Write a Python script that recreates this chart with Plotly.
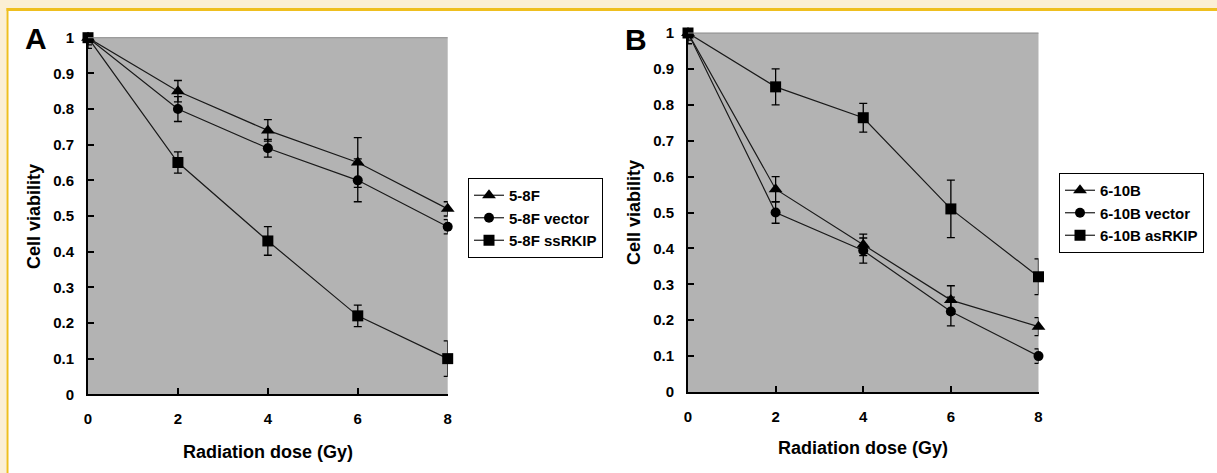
import plotly.graph_objects as go

W, H = 1217, 473

dose = [0, 2, 4, 6, 8]

# Panel A
a_names = ["5-8F", "5-8F vector", "5-8F ssRKIP"]
a_vals = [
    [1.0, 0.85, 0.74, 0.65, 0.52],
    [1.0, 0.80, 0.69, 0.60, 0.47],
    [1.0, 0.65, 0.43, 0.22, 0.10],
]
a_err = [
    [0.02, 0.03, 0.03, 0.07, 0.02],
    [0.03, 0.035, 0.025, 0.06, 0.02],
    [0.01, 0.03, 0.04, 0.03, 0.05],
]

# Panel B
b_names = ["6-10B", "6-10B vector", "6-10B asRKIP"]
b_vals = [
    [1.0, 0.565, 0.41, 0.256, 0.182],
    [1.0, 0.50, 0.394, 0.224, 0.10],
    [1.0, 0.85, 0.764, 0.51, 0.321],
]
b_err = [
    [0.03, 0.035, 0.03, 0.04, 0.025],
    [0.02, 0.03, 0.035, 0.04, 0.02],
    [0.01, 0.05, 0.04, 0.08, 0.05],
]

symbols = ["triangle-up", "circle", "square"]
msizes = [12, 10, 11]

y_tickvals = [0, 0.1, 0.2, 0.3, 0.4, 0.5, 0.6, 0.7, 0.8, 0.9, 1.0]
y_ticktext = ["0", "0.1", "0.2", "0.3", "0.4", "0.5", "0.6", "0.7", "0.8", "0.9", "1"]
x_tickvals = [0, 2, 4, 6, 8]

FONT = "Arial, Liberation Sans, sans-serif"

fig = go.Figure()

def add_panel(names, vals, errs, xa, ya, legend):
    for i, name in enumerate(names):
        fig.add_trace(go.Scatter(
            x=dose, y=vals[i], name=name, mode="lines+markers",
            xaxis=xa, yaxis=ya, legend=legend, legendgroup=f"{legend}{i}",
            line=dict(color="#1a1a1a", width=1.2),
            marker=dict(symbol=symbols[i], size=msizes[i], color="black"),
            error_y=dict(type="data", array=errs[i], visible=True,
                         color="black", thickness=1.3, width=4),
            cliponaxis=False,
        ))

add_panel(a_names, a_vals, a_err, "x", "y", "legend")
add_panel(b_names, b_vals, b_err, "x2", "y2", "legend2")

def px_x(p):
    return p / W

def px_y(p):
    return 1 - p / H

axA_x = [px_x(88), px_x(447.7)]
axA_y = [px_y(394.3), px_y(37.7)]
axB_x = [px_x(688), px_x(1038.5)]
axB_y = [px_y(392), px_y(33)]

xaxis_common = dict(
    range=[0, 8], tickvals=x_tickvals, showgrid=False, zeroline=False,
    showline=True, linecolor="black", linewidth=2, ticks="inside",
    ticklen=6, tickwidth=2, tickcolor="black",
    tickfont=dict(family=FONT, size=15, color="black", weight="bold"),
    ticklabelstandoff=10, automargin=False, fixedrange=True,
)
yaxis_common = dict(
    range=[0, 1], tickvals=y_tickvals, ticktext=y_ticktext, showgrid=False,
    zeroline=False, showline=True, linecolor="black", linewidth=2,
    ticks="inside", ticklen=6, tickwidth=2, tickcolor="black",
    tickfont=dict(family=FONT, size=15, color="black", weight="bold"),
    ticklabelstandoff=9, automargin=False, fixedrange=True,
)

legend_common = dict(
    bgcolor="white", bordercolor="black", borderwidth=1,
    font=dict(family=FONT, size=15, color="black", weight="bold"),
    xanchor="left", yanchor="top", traceorder="grouped", tracegroupgap=0,
    itemwidth=30,
)

fig.update_layout(
    width=W, height=H,
    margin=dict(l=0, r=0, t=0, b=0, pad=0),
    paper_bgcolor="white",
    plot_bgcolor="#b3b3b3",
    showlegend=True,
    xaxis=dict(domain=axA_x, anchor="y", **xaxis_common),
    yaxis=dict(domain=axA_y, anchor="x", **yaxis_common),
    xaxis2=dict(domain=axB_x, anchor="y2", **xaxis_common),
    yaxis2=dict(domain=axB_y, anchor="x2", **yaxis_common),
    legend=dict(x=px_x(468), y=px_y(178), **legend_common),
    legend2=dict(x=px_x(1059), y=px_y(173), **legend_common),
)

shapes = [
    # cream top strip and left strip
    dict(type="rect", xref="paper", yref="paper", x0=0, x1=1, y0=px_y(8), y1=1,
         fillcolor="#fbefd5", line=dict(width=0), layer="above"),
    dict(type="rect", xref="paper", yref="paper", x0=0, x1=px_x(6.5), y0=0, y1=px_y(8),
         fillcolor="#fbefd5", line=dict(width=0), layer="above"),
    # gold frame lines
    dict(type="rect", xref="paper", yref="paper", x0=px_x(6.5), x1=1, y0=px_y(11), y1=px_y(8),
         fillcolor="#efbf1f", line=dict(width=0), layer="above"),
    dict(type="rect", xref="paper", yref="paper", x0=px_x(6.5), x1=px_x(8.5), y0=0, y1=px_y(8),
         fillcolor="#efbf1f", line=dict(width=0), layer="above"),
    # thin gray top borders of plot areas
    dict(type="line", xref="x domain", yref="y domain", x0=0, x1=1, y0=1, y1=1,
         line=dict(color="#8a8a8a", width=1)),
    dict(type="line", xref="x2 domain", yref="y2 domain", x0=0, x1=1, y0=1, y1=1,
         line=dict(color="#8a8a8a", width=1)),
]
fig.update_layout(shapes=shapes)

def ann(text, x, y, size, bold=True, angle=0):
    font = dict(family=FONT, size=size, color="black")
    if bold:
        font["weight"] = "bold"
    return dict(text=text, x=px_x(x), y=px_y(y), xref="paper", yref="paper",
                xanchor="center", yanchor="middle", textangle=angle,
                showarrow=False, font=font)

annotations = [
    ann("A", 36, 38, 30),
    ann("B", 636, 39, 30),
    ann("Cell viability", 34, 217, 18, angle=-90),
    ann("Cell viability", 634, 213, 18, angle=-90),
    ann("Radiation dose (Gy)", 268, 452, 18),
    ann("Radiation dose (Gy)", 863, 448, 18),
]
fig.update_layout(annotations=annotations)

fig.write_html("out.html", post_script="document.body.style.margin='0';",
               config={"displayModeBar": False})
